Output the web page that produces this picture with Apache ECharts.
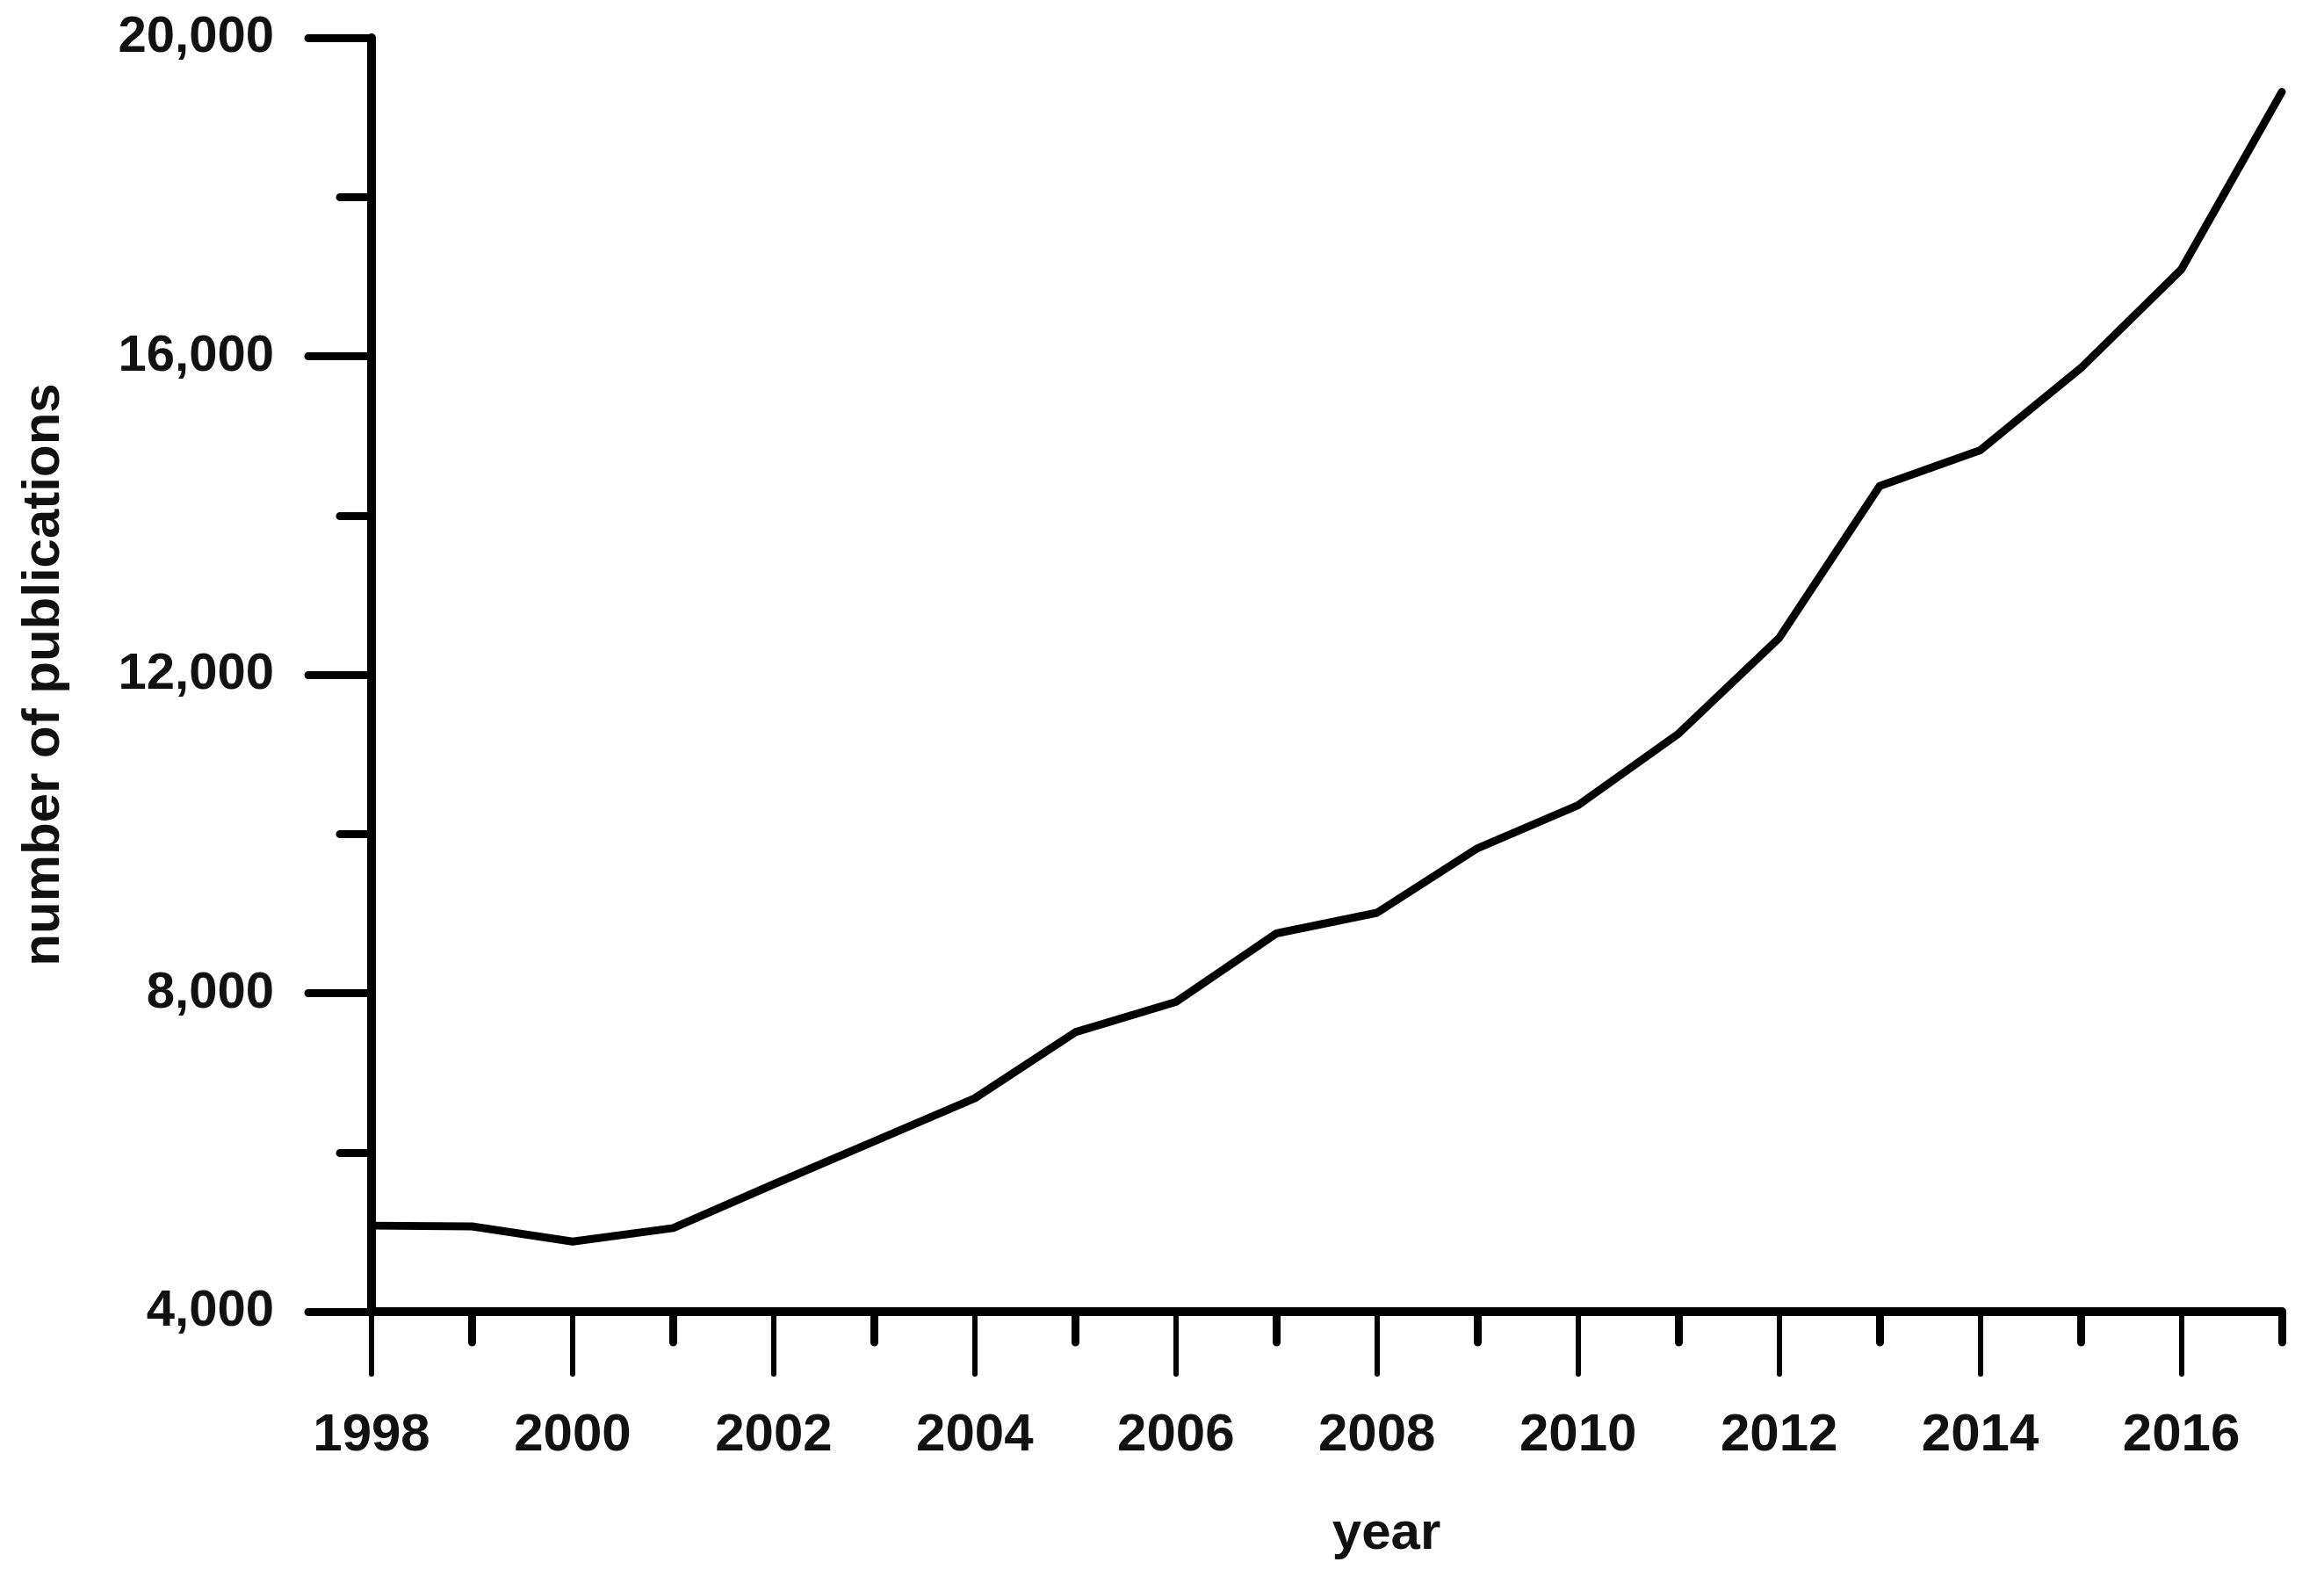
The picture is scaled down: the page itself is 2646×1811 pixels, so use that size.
<!DOCTYPE html>
<html>
<head>
<meta charset="utf-8">
<script src="https://cdn.jsdelivr.net/npm/echarts@6/dist/echarts.min.js"></script>
<style>
html,body{margin:0;padding:0;background:#fff;}
#chart{width:2646px;height:1811px;}
</style>
</head>
<body>
<div id="chart"></div>
<script>
const years = ['1998','1999','2000','2001','2002','2003','2004','2005','2006','2007','2008','2009','2010','2011','2012','2013','2014','2015','2016','2017'];
const publications = [5080,5070,4880,5050,5600,6140,6680,7510,7890,8750,9010,9820,10360,11260,12460,14370,14820,15850,17090,19320];
const yMin = 4000, yMax = 20000, yInterval = 4000;
const xAxisTitle = 'year';
const yAxisTitle = 'number of publications';

const FONT = "'Liberation Sans', Arial, sans-serif";
const chart = echarts.init(document.getElementById('chart'), null, {renderer:'canvas'});
chart.setOption({
  backgroundColor:'#ffffff',
  animation:false,
  grid:{left:423,right:48,top:43,bottom:318,containLabel:false,outerBoundsMode:'none'},
  xAxis:[
    {
      type:'category', data:years, boundaryGap:false, position:'bottom',
      axisLine:{show:true,lineStyle:{color:'#000',width:10,cap:'round'}},
      axisTick:{show:true,interval:function(i){return i%2===1;},length:35,lineStyle:{color:'#000',width:9,cap:'round'}},
      axisLabel:{show:false},
      splitLine:{show:false},
      name:xAxisTitle, nameLocation:'middle', nameGap:223,
      nameTextStyle:{fontFamily:FONT,fontWeight:'bold',fontSize:60,color:'#111',padding:[0,0,0,136]}
    },
    {
      type:'category', data:years, boundaryGap:false, position:'bottom',
      axisLine:{show:false},
      axisTick:{show:true,interval:function(i){return i%2===0;},length:71,lineStyle:{color:'#000',width:6,cap:'round'}},
      axisLabel:{show:true,interval:1,margin:111,fontFamily:FONT,fontWeight:'bold',fontSize:60,color:'#111'},
      splitLine:{show:false}
    }
  ],
  yAxis:{
    type:'value', min:yMin, max:yMax, interval:yInterval,
    axisLine:{show:true,lineStyle:{color:'#000',width:10,cap:'round'}},
    axisTick:{show:true,length:72,lineStyle:{color:'#000',width:9,cap:'round'}},
    minorTick:{show:true,splitNumber:2,length:36,lineStyle:{color:'#000',width:9,cap:'round'}},
    axisLabel:{margin:111,fontFamily:FONT,fontWeight:'bold',fontSize:58,color:'#111',
      formatter:function(v){return v.toLocaleString('en-US');}},
    splitLine:{show:false},
    name:yAxisTitle, nameLocation:'middle', nameRotate:90, nameGap:343,
    nameTextStyle:{fontFamily:FONT,fontWeight:'bold',fontSize:60,color:'#111'}
  },
  series:[{
    type:'line', xAxisIndex:0, data:publications, showSymbol:false, symbol:'none',
    lineStyle:{color:'#000',width:9,cap:'round',join:'round'}
  }]
});
</script>
</body>
</html>
